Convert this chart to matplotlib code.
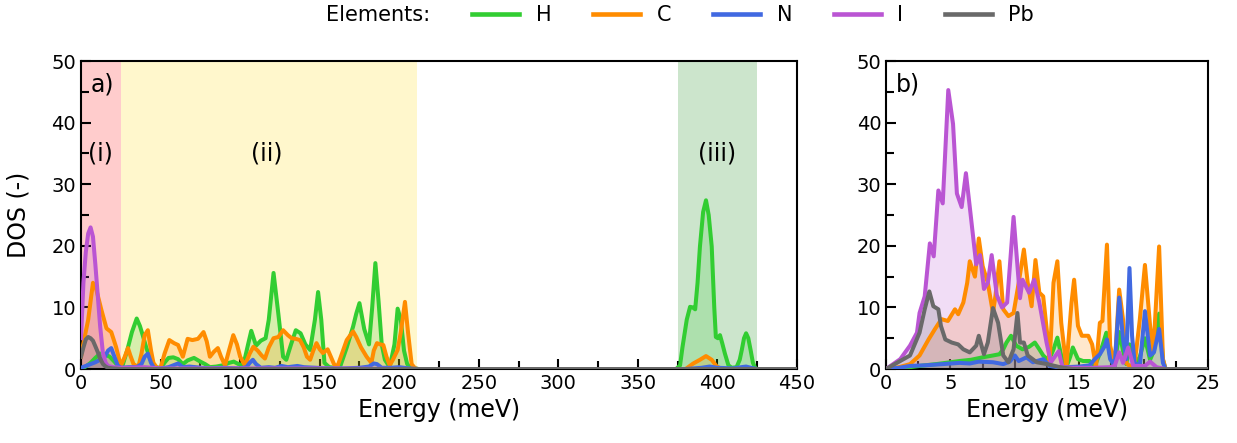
import matplotlib.pyplot as plt
from matplotlib.lines import Line2D

elements = ['H', 'C', 'N', 'I', 'Pb']
colors = ['limegreen', 'darkorange', 'royalblue', 'mediumorchid', 'dimgray']

# ---- panel a) full energy range (meV) ----
h_a_e = [0, 3, 6, 9, 12, 15, 18, 21, 24, 26, 29, 32, 35, 37, 39, 41, 43, 46, 50, 53, 55, 58, 61, 64, 67,
         71, 75, 78, 81, 85, 89, 93, 96, 99, 102, 105, 107, 110, 113, 116, 118, 121, 124, 127, 129, 132,
         135, 138, 141, 144, 147, 149, 151, 153, 156, 160, 163, 167, 171, 173, 175, 178, 181, 183, 185,
         187, 189, 191, 194, 197, 199, 201, 203, 205, 207, 210, 212,
         374, 376.5, 378, 380.7, 382.8, 384.5, 386, 387.5, 389, 391, 392.8, 394.5, 396.4, 398, 399,
         400.3, 401.6, 403, 404.7, 406.9, 409, 412, 414, 415.3, 416.7, 418, 419.4, 420.9, 422.3, 423.7,
         425, 450]
h_a = [0, 0.4, 1.0, 1.8, 2.5, 2.4, 2.0, 1.2, 0.3, 0.5, 3.0, 6.0, 8.2, 7.0, 5.3, 3.5, 2.0, 0.3, 0.2, 1.2,
       1.8, 1.9, 1.6, 0.8, 1.4, 1.8, 1.2, 0.8, 0.3, 0.4, 0.6, 1.0, 1.2, 0.8, 0.6, 4.0, 6.2, 3.8, 4.6, 5.0,
       8.0, 15.6, 9.0, 2.0, 1.5, 4.0, 6.3, 5.8, 4.0, 3.1, 8.0, 12.5, 8.0, 1.0, 0.3, 0.2, 0.5, 3.5, 6.9,
       9.0, 10.7, 6.5, 4.0, 10.0, 17.2, 11.0, 4.0, 1.5, 0.3, 4.0, 9.8, 8.0, 3.0, 0.8, 0.3, 0.1, 0,
       0, 0.6, 3.5, 8.0, 10.1, 10.0, 9.7, 14.0, 19.9, 25.5, 27.4, 25.0, 19.9, 10.0, 5.2,
       5.0, 5.5, 4.2, 2.5, 0.6, 0.2, 0.3, 1.5, 3.1, 5.0, 5.8, 5.0, 3.0, 1.0, 0.2,
       0, 0]

c_a_e = [0, 1.5, 4.5, 7.5, 9.5, 12.8, 16, 19, 22, 25, 27.5, 29.5, 31, 33, 36, 38, 40, 42, 44, 45.5, 48,
         50, 52.5, 55.5, 58.5, 61, 64, 67, 70, 73.5, 77, 79, 81, 83.5, 86, 88, 90.5, 93, 95.7, 98, 100,
         103, 106, 108.3, 111, 113.5, 115.6, 118, 121, 124, 127, 130, 132.4, 135, 137.6, 140, 142, 144,
         146, 148, 150, 152, 155, 157, 159, 161, 164, 167, 171, 173, 176, 179.5, 182.5, 184, 186, 188,
         190, 192, 194, 196, 199, 201, 203.6, 205.5, 207.8, 210, 212,
         380, 384.8, 389, 392.8, 396.4, 399.6, 403, 450]
c_a = [2.0, 4.2, 8.0, 14.0, 13.0, 9.6, 6.6, 6.0, 3.6, 0.5, 2.0, 3.4, 2.2, 0.8, 0.3, 2.5, 5.5, 6.3, 3.0,
       1.0, 0.1, 0.2, 2.5, 4.7, 4.2, 3.9, 2.0, 4.9, 4.7, 4.9, 6.0, 4.5, 2.0, 2.8, 3.4, 2.0, 0.6, 3.0,
       5.5, 4.0, 2.0, 0.6, 2.5, 3.6, 3.0, 2.2, 1.7, 3.5, 5.0, 5.2, 6.3, 5.5, 5.0, 4.9, 4.7, 3.5, 2.0,
       1.5, 3.0, 4.2, 3.2, 2.6, 3.2, 2.0, 0.8, 0.3, 2.5, 4.7, 6.1, 5.2, 3.5, 2.0, 1.0, 3.0, 4.2, 4.0,
       3.9, 2.0, 0.6, 1.5, 3.1, 6.0, 10.9, 6.0, 0.8, 0.1, 0,
       0, 0.9, 1.5, 2.1, 1.5, 0.4, 0, 0]

n_a_e = [0, 3, 6, 9, 12, 15, 17, 19, 21, 23, 25, 30, 35, 38, 40, 42, 44, 46, 50, 55, 58, 61, 64, 68, 72,
         80, 90, 100, 104, 106, 108, 110, 113, 118, 122, 126, 130, 136, 140, 148, 155, 165, 175, 181,
         184, 186, 189, 195, 200, 206, 212,
         380, 390, 395, 400, 410, 415, 418, 421, 425, 450]
n_a = [0.2, 0.5, 0.8, 1.1, 1.5, 2.0, 3.0, 3.4, 2.0, 0.6, 0.2, 0.3, 0.3, 0.8, 2.0, 2.5, 1.0, 0.1, 0.1,
       0.3, 0.6, 0.9, 0.3, 0.4, 0.3, 0.1, 0.2, 0.1, 0.3, 1.0, 1.5, 0.8, 0.2, 0.3, 0.2, 0.5, 0.3, 0.5,
       0.3, 0.2, 0.1, 0.1, 0.2, 0.4, 0.9, 0.8, 0.2, 0.2, 0.3, 0.1, 0,
       0, 0.2, 0.4, 0.2, 0.1, 0.3, 0.4, 0.2, 0, 0]

i_a_e = [0, 1.5, 3, 4.5, 6, 7.5, 9, 10.5, 12, 13.8, 15.5, 17, 20, 25, 30, 40, 50, 100, 150, 212, 450]
i_a = [5, 14, 19, 22, 23, 21.5, 17, 12, 7, 2.5, 1.0, 0.5, 0.3, 0.2, 0.2, 0.3, 0.1, 0.1, 0.1, 0, 0]

pb_a_e = [0, 1.5, 3, 4.5, 6, 7.5, 9, 10.6, 12, 13.8, 15.5, 17, 20, 25, 450]
pb_a = [2.0, 3.5, 4.8, 5.2, 5.0, 4.6, 3.7, 2.7, 1.7, 0.8, 0.4, 0.2, 0.1, 0, 0]

# ---- panel b) low energy zoom (meV) ----
h_b_e = [0, 1, 1.86, 3, 3.9, 5.0, 5.7, 6.6, 7.5, 8.3, 8.8, 9.1, 9.35, 9.7, 10.1, 10.6, 11.1, 11.55, 11.9,
         12.2, 12.5, 12.8, 13.0, 13.3, 13.6, 14.0, 14.3, 14.5, 14.9, 15.3, 15.8, 16.2, 16.6, 16.9, 17.1,
         17.4, 17.75, 18.1, 18.4, 18.65, 18.9, 19.1, 19.3, 19.7, 20.1, 20.5, 20.8, 21.2, 21.5, 21.7, 25]
h_b = [0, 0.1, 0.3, 0.6, 0.8, 1.1, 1.3, 1.5, 1.9, 2.2, 2.4, 3.2, 4.3, 5.4, 3.8, 3.2, 3.6, 4.3, 3.2, 2.2,
       1.6, 2.2, 3.2, 5.1, 2.2, 0.3, 2.0, 3.5, 1.6, 1.3, 1.3, 0.5, 2.5, 4.5, 5.9, 2.0, 0.5, 6.0, 3.0,
       0.8, 4.0, 2.0, 0.5, 2.0, 5.0, 1.5, 3.0, 9.0, 1.5, 0, 0]

c_b_e = [0, 1.0, 1.86, 2.6, 3.3, 3.8, 4.3, 4.8, 5.35, 5.6, 6.0, 6.3, 6.5, 6.9, 7.2, 7.5, 7.9, 8.3, 8.5,
         8.8, 9.1, 9.5, 9.9, 10.3, 10.7, 11.0, 11.3, 11.6, 11.9, 12.2, 12.5, 12.7, 13.0, 13.3, 13.6, 14.0,
         14.4, 14.6, 14.9, 15.2, 15.7, 16.0, 16.3, 16.6, 16.8, 17.15, 17.4, 17.75, 18.1, 18.4, 18.65,
         18.9, 19.3, 19.7, 20.1, 20.5, 20.75, 21.2, 21.5, 21.7, 25]
c_b = [0, 0.3, 0.8, 2.2, 4.8, 6.5, 8.1, 7.8, 9.7, 8.9, 10.8, 14.0, 17.5, 15.0, 21.2, 16.7, 14.0, 9.1,
       12.0, 17.5, 9.7, 8.6, 9.1, 14.0, 19.4, 14.0, 10.2, 17.7, 12.4, 11.8, 5.9, 1.1, 14.0, 17.5, 7.5,
       0.3, 10.8, 14.5, 7.0, 5.4, 5.4, 4.0, 0.3, 7.5, 7.8, 20.2, 3.8, 0.5, 12.9, 8.0, 1.0, 0.5, 0.8,
       8.0, 16.9, 7.0, 2.7, 19.9, 1.6, 0, 0]

n_b_e = [0, 1.0, 1.86, 3.0, 4.4, 5.7, 6.5, 7.2, 8.3, 9.1, 9.6, 10.0, 10.3, 10.9, 11.4, 12.2, 12.7, 13.3,
         14.0, 15.0, 15.8, 16.2, 16.6, 17.0, 17.15, 17.4, 17.75, 18.1, 18.4, 18.65, 18.9, 19.1, 19.3,
         19.7, 20.1, 20.5, 20.8, 21.2, 21.5, 21.7, 25]
n_b = [0, 0.2, 0.5, 0.6, 0.8, 1.0, 0.9, 1.2, 1.1, 0.8, 1.2, 2.2, 1.3, 1.9, 1.1, 1.6, 0.5, 0.3, 0.3, 0.4,
       0.6, 1.6, 2.4, 3.8, 4.8, 1.6, 0.5, 11.6, 4.8, 1.6, 16.4, 5.4, 1.0, 0.5, 9.4, 2.2, 2.7, 6.5, 1.0,
       0, 0]

i_b_e = [0, 1.1, 1.86, 2.4, 2.6, 3.0, 3.4, 3.7, 4.06, 4.4, 4.83, 5.2, 5.5, 5.87, 6.2, 6.5, 7.0, 7.3, 7.6,
         7.9, 8.2, 8.6, 9.0, 9.4, 9.9, 10.4, 10.6, 11.1, 11.5, 11.9, 12.46, 12.8, 13.4, 13.7, 14.5, 16,
         17.4, 17.75, 18.1, 18.4, 18.8, 19.2, 20.1, 20.5, 21.0, 21.7, 25]
i_b = [0, 1.6, 3.8, 5.9, 9.1, 11.8, 20.4, 18.3, 29.0, 26.9, 45.3, 39.8, 28.5, 26.3, 31.8, 26.3, 17.0,
       18.5, 13.0, 14.0, 18.5, 12.0, 10.0, 10.8, 24.7, 11.5, 14.5, 12.4, 14.5, 10.8, 4.3, 1.1, 2.9, 0.3,
       0.2, 0.2, 0.3, 0.5, 2.7, 1.0, 3.5, 0.5, 0.5, 1.2, 0.3, 0, 0]

pb_b_e = [0, 1.86, 2.6, 3.0, 3.36, 3.67, 4.06, 4.26, 4.6, 5.1, 5.6, 6.0, 6.5, 7.0, 7.2, 7.6, 7.9, 8.3, 8.7,
          9.1, 9.5, 9.9, 10.2, 10.4, 10.7, 11.0, 11.7, 12.5, 13.5, 14.5, 25]
pb_b = [0, 2.2, 5.9, 9.7, 12.6, 10.2, 9.7, 7.0, 4.8, 4.3, 4.0, 3.2, 2.7, 3.8, 5.4, 2.4, 4.3, 9.9, 7.5,
        2.2, 1.1, 3.2, 9.1, 4.3, 4.3, 2.2, 1.1, 0.8, 0.3, 0, 0]

data_a = [(h_a_e, h_a), (c_a_e, c_a), (n_a_e, n_a), (i_a_e, i_a), (pb_a_e, pb_a)]
data_b = [(h_b_e, h_b), (c_b_e, c_b), (n_b_e, n_b), (i_b_e, i_b), (pb_b_e, pb_b)]

# shaded regions (i), (ii), (iii)
regions = [(0, 25, 'red', '(i)', 12.5), (25, 211, 'gold', '(ii)', 117), (375, 425, 'green', '(iii)', 400)]

fig = plt.figure(figsize=(12.37, 4.43), dpi=100)
ax_a = fig.add_axes([0.0655, 0.167, 0.5788, 0.695])
ax_b = fig.add_axes([0.7163, 0.167, 0.2603, 0.695])

for x0, x1, col, lab, xt in regions:
    ax_a.axvspan(x0, x1, color=col, alpha=0.2, lw=0, zorder=0)
    ax_a.text(xt, 35, lab, ha='center', va='center', fontsize=17)

for ax, data in [(ax_a, data_a), (ax_b, data_b)]:
    for (e, d), col in zip(data, colors):
        ax.plot(e, d, color=col, lw=2.9, zorder=3)
        ax.fill_between(e, d, 0, color=col, alpha=0.2, lw=0, zorder=2)

ax_a.set_xlim(0, 450)
ax_a.set_xticks(range(0, 451, 50))
ax_a.set_xticks(range(0, 451, 25), minor=True)
ax_b.set_xlim(0, 25)
ax_b.set_xticks(range(0, 26, 5))
ax_b.set_xticks([x * 2.5 for x in range(11)], minor=True)

for ax, tag in [(ax_a, 'a)'), (ax_b, 'b)')]:
    ax.set_ylim(0, 50)
    ax.set_yticks(range(0, 51, 10))
    ax.set_yticks(range(0, 51, 5), minor=True)
    ax.tick_params(which='both', direction='in', labelsize=14, width=1.5, top=False, right=False)
    ax.tick_params(which='major', length=7)
    ax.tick_params(which='minor', length=6)
    for s in ax.spines.values():
        s.set_linewidth(1.5)
    ax.set_xlabel('Energy (meV)', fontsize=17)
    ax.text(0.03 if ax is ax_b else 0.013, 0.925, tag, transform=ax.transAxes,
            ha='left', va='center', fontsize=17)

ax_a.set_ylabel('DOS (-)', fontsize=17)
ax_a.yaxis.set_label_coords(-0.071, 0.5)

# legend across the top
handles = [Line2D([], [], color=c, lw=3.3) for c in colors]
fig.text(0.2633, 0.966, 'Elements:', fontsize=15, ha='left', va='center')
fig.legend(handles, elements, loc='center', bbox_to_anchor=(0.609, 0.966), ncol=5, frameon=False,
           fontsize=15, handlelength=2.25, handletextpad=0.8, columnspacing=2.0)

plt.savefig('out.png', dpi=100)
